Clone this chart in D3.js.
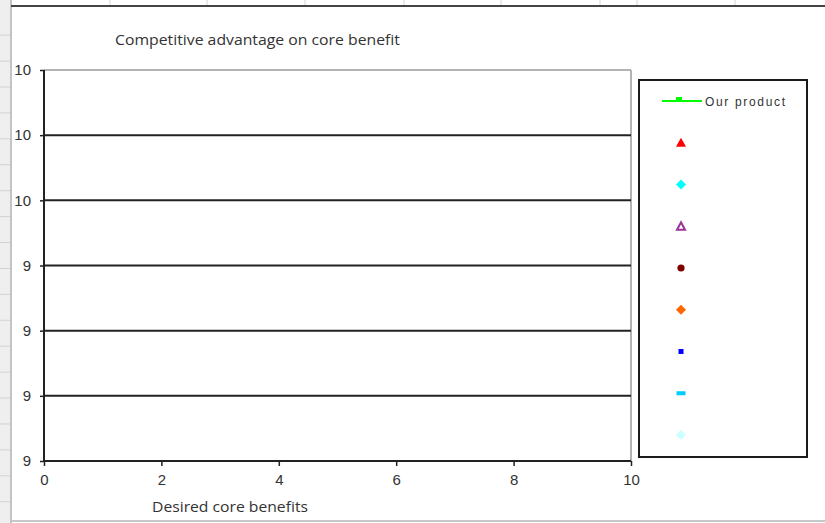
<!DOCTYPE html>
<html>
<head>
<meta charset="utf-8">
<script src="https://cdn.jsdelivr.net/npm/d3@7"></script>
<style>
  html, body { margin: 0; padding: 0; background: #fff; }
  svg { display: block; }
</style>
</head>
<body>
<svg id="chart" width="825" height="523"></svg>
<script>
// ---- data ----
const chartTitle = "Competitive advantage on core benefit";
const xTitle = "Desired core benefits";
const xTicks = [0, 2, 4, 6, 8, 10];
const yTicks = [8.8, 9.0, 9.2, 9.4, 9.6, 9.8, 10.0];
const seriesNames = ["Our product", "", "", "", "", "", "", "", ""];
const seriesColors = ["#00ff00", "#ff0000", "#00ffff", "#993399", "#800000", "#ff6600", "#0000ff", "#00ccff", "#ccffff"];
const seriesMarkers = ["square", "triangle", "diamond", "triangleOpen", "circle", "diamond", "smallSquare", "dash", "diamond"];
const seriesHasLine = [true, false, false, false, false, false, false, false, false];
// points per series (x, y); no points fall in the plotted window
const seriesX = [[], [], [], [], [], [], [], [], []];
const seriesY = [[], [], [], [], [], [], [], [], []];

const svg = d3.select("#chart");

// ---- sheet backdrop (row header strip, column lines) ----
const sheet = svg.append("g");
sheet.append("rect").attr("x", 0).attr("y", 0).attr("width", 10).attr("height", 523).attr("fill", "#efefef");
d3.range(-2, 17).forEach(k => {
  const yy = 87 + 25.92 * k;
  sheet.append("line").attr("x1", 0).attr("x2", 10).attr("y1", yy).attr("y2", yy)
    .attr("stroke", "#d2d2d2").attr("stroke-width", 1);
});
sheet.append("line").attr("x1", 11).attr("x2", 11).attr("y1", 0).attr("y2", 523)
  .attr("stroke", "#c4c4c4").attr("stroke-width", 2);
[110, 207, 305, 404, 501, 600, 637, 735].forEach(cx => {
  sheet.append("line").attr("x1", cx).attr("x2", cx).attr("y1", 0).attr("y2", 5)
    .attr("stroke", "#d6d6d6").attr("stroke-width", 1);
});
sheet.append("line").attr("x1", 11).attr("x2", 825).attr("y1", 6).attr("y2", 6)
  .attr("stroke", "#444", ).attr("stroke-width", 2);
sheet.append("line").attr("x1", 11).attr("x2", 825).attr("y1", 521).attr("y2", 521)
  .attr("stroke", "#c8c8c8").attr("stroke-width", 2);

// ---- scales ----
const x = d3.scaleLinear().domain([0, 10]).range([44, 631]);
const y = d3.scaleLinear().domain([8.8, 10.0]).range([461, 70]);

// plot area border (top and right)
svg.append("line").attr("x1", x(0)).attr("x2", x(10)).attr("y1", y(10)).attr("y2", y(10))
  .attr("stroke", "#9a9a9a").attr("stroke-width", 1.5);
svg.append("line").attr("x1", x(10)).attr("x2", x(10)).attr("y1", y(10)).attr("y2", y(8.8))
  .attr("stroke", "#9a9a9a").attr("stroke-width", 1.5);

// horizontal gridlines
svg.append("g").selectAll("line")
  .data(yTicks.filter(v => v > 8.85 && v < 9.95))
  .join("line")
  .attr("x1", x(0)).attr("x2", x(10))
  .attr("y1", d => y(d)).attr("y2", d => y(d))
  .attr("stroke", "#222").attr("stroke-width", 2);

// axes
const fmt = d3.format(".0f");
const yAxis = svg.append("g").attr("transform", `translate(${x(0)},0)`)
  .call(d3.axisLeft(y).tickValues(yTicks).tickFormat(d => fmt(d)).tickSize(4).tickPadding(9));
const xAxis = svg.append("g").attr("transform", `translate(0,${y(8.8)})`)
  .call(d3.axisBottom(x).tickValues(xTicks).tickFormat(d => fmt(d)).tickSize(5).tickPadding(8));

[yAxis, xAxis].forEach(ax => {
  ax.select(".domain").attr("stroke", "#222").attr("stroke-width", 2);
  ax.selectAll(".tick line").attr("stroke", "#222").attr("stroke-width", 1.5);
  ax.selectAll(".tick text")
    .attr("font-family", "'Liberation Sans', Arial, sans-serif")
    .attr("font-size", 15).attr("fill", "#333");
});
xAxis.select(".domain").attr("d", `M${x(0)},0H${x(10)}`);
yAxis.select(".domain").attr("d", `M0,${y(8.8)}V${y(10)}`);

// titles
const titleFont = "'Open Sans', Lato, sans-serif";
svg.append("text").attr("x", 115).attr("y", 45)
  .attr("font-family", titleFont).attr("font-size", 14.4)
  .attr("fill", "#333").attr("textLength", 285).attr("lengthAdjust", "spacingAndGlyphs").text(chartTitle);
svg.append("text").attr("x", 152).attr("y", 512)
  .attr("font-family", titleFont).attr("font-size", 14.4)
  .attr("fill", "#333").attr("textLength", 156).attr("lengthAdjust", "spacingAndGlyphs").text(xTitle);

// ---- marker shapes ----
function drawMarker(g, kind, color, cx, cy) {
  if (kind === "square") {
    g.append("rect").attr("x", cx - 3).attr("y", cy - 3).attr("width", 6).attr("height", 5).attr("fill", color);
  } else if (kind === "smallSquare") {
    g.append("rect").attr("x", cx - 2.5).attr("y", cy - 2.5).attr("width", 5).attr("height", 5).attr("fill", color);
  } else if (kind === "triangle") {
    g.append("path").attr("d", `M${cx},${cy - 5}L${cx + 5},${cy + 4}L${cx - 5},${cy + 4}Z`).attr("fill", color);
  } else if (kind === "triangleOpen") {
    g.append("path").attr("d", `M${cx},${cy - 4}L${cx + 4},${cy + 3.5}L${cx - 4},${cy + 3.5}Z`)
      .attr("fill", "none").attr("stroke", color).attr("stroke-width", 2);
  } else if (kind === "diamond") {
    g.append("path").attr("d", `M${cx},${cy - 5}L${cx + 5},${cy}L${cx},${cy + 5}L${cx - 5},${cy}Z`).attr("fill", color);
  } else if (kind === "circle") {
    g.append("circle").attr("cx", cx).attr("cy", cy).attr("r", 3.6).attr("fill", color);
  } else if (kind === "dash") {
    g.append("rect").attr("x", cx - 4.5).attr("y", cy - 2).attr("width", 9).attr("height", 4).attr("fill", color);
  }
}

// ---- series (scatter points + connecting line) ----
const plot = svg.append("g");
seriesNames.forEach((name, i) => {
  const pts = seriesX[i].map((xv, j) => [xv, seriesY[i][j]]);
  const g = plot.append("g");
  if (seriesHasLine[i] && pts.length > 1) {
    g.append("path").datum(pts)
      .attr("d", d3.line().x(d => x(d[0])).y(d => y(d[1])))
      .attr("fill", "none").attr("stroke", seriesColors[i]).attr("stroke-width", 2);
  }
  pts.forEach(p => drawMarker(g, seriesMarkers[i], seriesColors[i], x(p[0]), y(p[1])));
});

// ---- legend ----
const legend = svg.append("g");
legend.append("rect").attr("x", 639).attr("y", 80).attr("width", 168).attr("height", 377)
  .attr("fill", "#fff").attr("stroke", "#1a1a1a").attr("stroke-width", 2);
const ly = d3.scalePoint().domain(d3.range(seriesNames.length)).range([101, 435]);
seriesNames.forEach((name, i) => {
  const cy = ly(i);
  const g = legend.append("g");
  if (seriesHasLine[i]) {
    g.append("line").attr("x1", 662).attr("x2", 702).attr("y1", cy).attr("y2", cy)
      .attr("stroke", seriesColors[i]).attr("stroke-width", 2);
  }
  drawMarker(g, seriesMarkers[i], seriesColors[i], i === 0 ? 679 : 681, i === 0 ? cy - 1 : cy);
  if (name) {
    g.append("text").attr("x", 705).attr("y", cy + 4.5)
      .attr("font-family", "'Liberation Sans', Arial, sans-serif").attr("font-size", 12)
      .attr("fill", "#333").attr("textLength", 80)
      .attr("lengthAdjust", "spacing").text(name);
  }
});
</script>
</body>
</html>
